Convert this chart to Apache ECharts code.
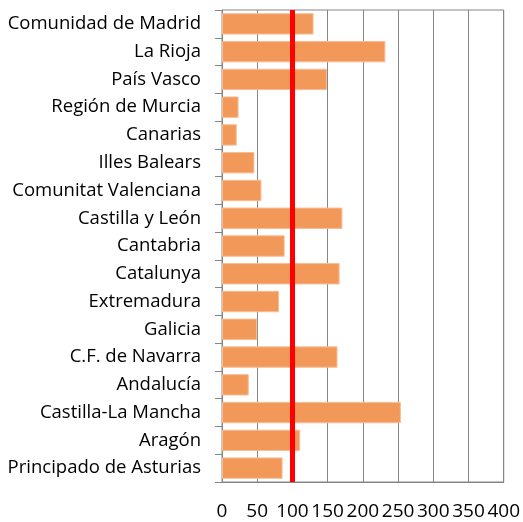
<!DOCTYPE html>
<html><head><meta charset="utf-8">
<script src="https://cdn.jsdelivr.net/npm/echarts@6/dist/echarts.min.js"></script>
<style>html,body{margin:0;padding:0;background:#fff}#c{width:523px;height:522px}</style>
</head><body><div id="c"></div>
<script>
var categories = ["Comunidad de Madrid","La Rioja","País Vasco","Región de Murcia","Canarias","Illes Balears","Comunitat Valenciana","Castilla y León","Cantabria","Catalunya","Extremadura","Galicia","C.F. de Navarra","Andalucía","Castilla-La Mancha","Aragón","Principado de Asturias"];
var values = [130, 232, 149, 23.5, 21, 46, 56, 171, 89, 167, 81, 50, 164, 38, 254, 111, 86];
var referenceValue = 100;
var xTicks = {min: 0, max: 400, interval: 50};

var chart = echarts.init(document.getElementById('c'), null, {renderer: 'canvas'});
var font = '"Open Sans", sans-serif';
chart.setOption({
  animation: false,
  grid: {left: 222, right: 17, top: 10, bottom: 40, show: true, borderColor: '#868686', borderWidth: 1},
  xAxis: {
    type: 'value', min: xTicks.min, max: xTicks.max, interval: xTicks.interval,
    axisLine: {show: true, lineStyle: {color: '#868686'}},
    axisTick: {show: false},
    splitLine: {show: true, lineStyle: {color: '#868686', width: 1}},
    axisLabel: {color: '#000', fontSize: 19, fontFamily: font, margin: 20}
  },
  yAxis: {
    type: 'category', data: categories, inverse: true,
    axisLine: {show: true, lineStyle: {color: '#868686'}},
    axisTick: {show: true, length: 7, lineStyle: {color: '#868686'}},
    axisLabel: {color: '#000', fontSize: 18.5, fontFamily: font, margin: 21}
  },
  series: [{
    type: 'bar', data: values, barCategoryGap: '23%',
    itemStyle: {color: '#F2995A', borderColor: '#F6BE96', borderWidth: 1},
    markLine: {
      silent: true, symbol: 'none', label: {show: false},
      lineStyle: {color: '#FF0000', width: 5, type: 'solid'},
      data: [{xAxis: referenceValue}]
    }
  }]
});
</script></body></html>
